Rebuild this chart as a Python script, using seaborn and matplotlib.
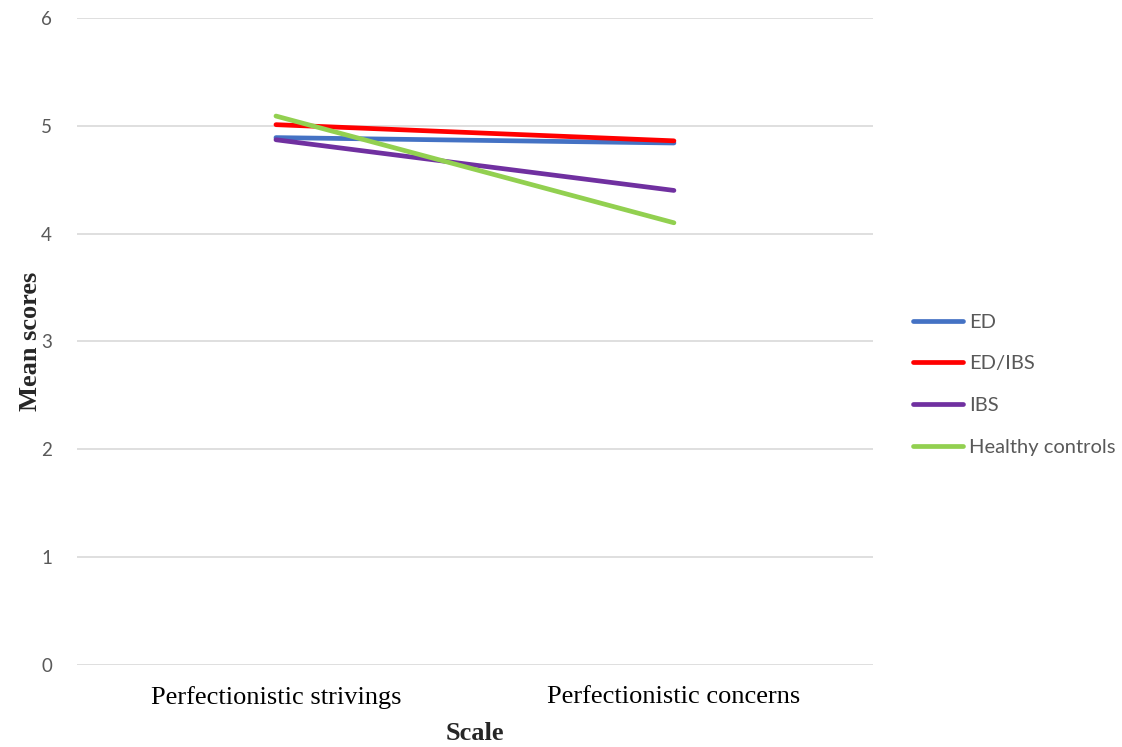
import matplotlib
matplotlib.use("Agg")
import matplotlib.pyplot as plt
import seaborn as sns
import pandas as pd

# Mean scores per group on the two perfectionism scales
scales = ["Perfectionistic strivings", "Perfectionistic concerns"]
groups = ["ED", "ED/IBS", "IBS", "Healthy controls"]
ed = [4.89, 4.84]
ed_ibs = [5.01, 4.86]
ibs = [4.87, 4.40]
healthy = [5.09, 4.10]
y_ticks = [0, 1, 2, 3, 4, 5, 6]

colors = ["#4472C4", "#FF0000", "#7030A0", "#92D050"]

rows = []
for g, vals in zip(groups, [ed, ed_ibs, ibs, healthy]):
    for i, (s, v) in enumerate(zip(scales, vals)):
        rows.append({"Group": g, "Scale": s, "pos": i, "Mean scores": v})
df = pd.DataFrame(rows)

sns.set_theme(style="white")
plt.rcParams["font.family"] = ["Liberation Sans", "DejaVu Sans"]

fig = plt.figure(figsize=(11.22, 7.47), dpi=100)
ax = fig.add_axes([0.0686, 0.110, 0.7094, 0.866])

sns.lineplot(data=df, x="pos", y="Mean scores", hue="Group", hue_order=groups,
             palette=colors, linewidth=3.4, ax=ax, legend=True,
             solid_capstyle="round")

ax.set_xlim(-0.5, 1.5)
ax.set_ylim(0, 6)
ax.set_yticks(y_ticks)
ax.set_yticklabels([str(t) for t in y_ticks], color="#595959", fontsize=13.5,
                   family=["Lato", "DejaVu Sans"])
ax.set_xticks([0, 1])
ax.set_xticklabels(scales, family="Liberation Serif", fontsize=19, color="black")
ax.tick_params(axis="x", length=0, pad=15)
ax.tick_params(axis="y", length=0, pad=18)
ax.yaxis.grid(True, color="#d9d9d9", linewidth=1.2)
ax.set_axisbelow(True)
for sp in ax.spines.values():
    sp.set_visible(False)

ax.set_xlabel("Scale", family="Liberation Serif", fontsize=19, fontweight="bold",
              va="center")
ax.xaxis.set_label_coords(0.5, -0.106)
ax.set_ylabel("Mean scores", family="Liberation Serif", fontsize=19,
              fontweight="bold", va="center")
ax.yaxis.set_label_coords(-0.058, 0.5)

leg = ax.legend(loc="center left", bbox_to_anchor=(1.027, 0.433), frameon=False,
                handlelength=2.5, handletextpad=0.3, labelspacing=1.22,
                prop={"family": ["Lato", "DejaVu Sans"], "size": 14.5})
for t in leg.get_texts():
    t.set_color("#595959")
for l in leg.get_lines():
    l.set_linewidth(3.4)

fig.savefig("out.png", dpi=100, facecolor="white")
